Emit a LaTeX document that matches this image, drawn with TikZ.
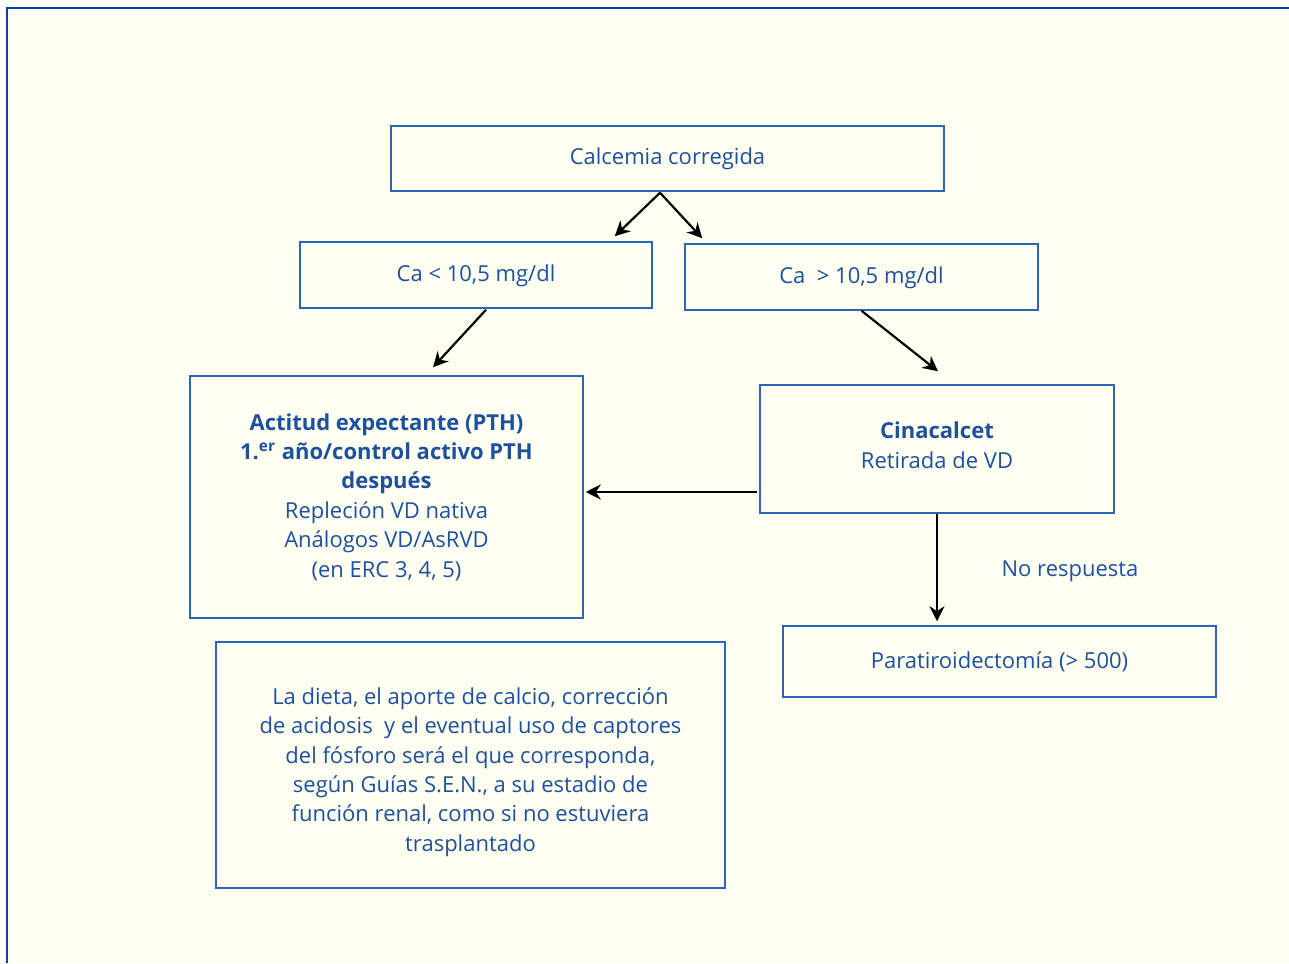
\documentclass[tikz,border=0pt]{standalone}
\usepackage{fontspec}
\setmainfont{Open Sans}
\usepackage{tikz}
\usetikzlibrary{arrows.meta}
\usetikzlibrary{calc}
\definecolor{cream}{HTML}{FFFFF2}
\definecolor{frameblue}{HTML}{0046A0}
\definecolor{boxblue}{HTML}{2E64B4}
\definecolor{txtblue}{HTML}{1E50A0}

\begin{document}
\begin{tikzpicture}[x=0.5pt, y=-0.5pt, >=Stealth,
  arr/.style={-{Stealth[length=7.5pt,width=7.5pt]}, line width=1.1pt, black},
  box/.style={draw=boxblue, line width=0.75pt, align=center, inner sep=0pt,
    text=txtblue, font=\fontsize{11}{14.7}\selectfont},]
\useasboundingbox (0,0) rectangle (1289,963);
\fill[cream] (7,8) rectangle (1289,963);
\draw[frameblue, line width=1pt] (7,963) -- (7,8) -- (1289,8);
\node (1) at (667.5, 158.5) [box, minimum width=276.5pt, minimum height=32.5pt] {\rule[-2pt]{0pt}{11pt}Calcemia corregida};
\node (2) at (476, 275) [box, minimum width=176pt, minimum height=33pt] {\rule[-2pt]{0pt}{11pt}Ca < 10,5 mg/dl};
\node (3) at (861.5, 277) [box, minimum width=176.5pt, minimum height=33pt] {\rule[-2pt]{0pt}{11pt}Ca\ \ > 10,5 mg/dl};
\node (4) at (386.5, 497) [box, minimum width=196.5pt, minimum height=121pt]
  {\textbf{Actitud expectante (PTH)}\\ \textbf{1.\textsuperscript{er} año/control activo PTH}\\ \textbf{después}\\
   Repleción VD nativa\\ Análogos VD/AsRVD\\ (en ERC 3, 4, 5)};
\node (5) at (937, 449) [box, minimum width=177pt, minimum height=64pt] {\textbf{Cinacalcet}\\ Retirada de VD\rule[-4pt]{0pt}{4pt}};
\node (6) at (999.5, 661.5) [box, minimum width=216.5pt, minimum height=35.5pt] {\rule[-2pt]{0pt}{11pt}Paratiroidectomía (> 500)};
\node (7) at (470.5, 765) [box, minimum width=254.5pt, minimum height=123pt]
  {\rule{0pt}{15.5pt}La dieta, el aporte de calcio, corrección\\ de acidosis\ \ y el eventual uso de captores\\
   del fósforo será el que corresponda,\\ según Guías S.E.N., a su estadio de\\
   función renal, como si no estuviera\\ trasplantado};
\node (8) at (1070, 570) [text=txtblue, font=\fontsize{11}{14.7}\selectfont] {\rule[-2pt]{0pt}{11pt}No respuesta};
  \draw [arr] ($(1.south)+(-7.5,1)$) -- ($(2.north east)+(-38,-5)$);
  \draw [arr] ($(1.south)+(-7.5,1)$) -- ($(3.north west)+(18,-5)$);
  \draw [arr] ($(2.south)+(10,1)$) -- ($(4.north)+(46.5,-8)$);
  \draw [arr] (3.south) -- ($(5.north)+(1,-13)$);
  \draw [arr] ($(5.west)+(-2,43)$) -- ($(4.east)+(2,-5)$);
  \draw [arr] (5.south) -- ($(6.north)+(-62.5,-4)$);
\end{tikzpicture}
\end{document}
